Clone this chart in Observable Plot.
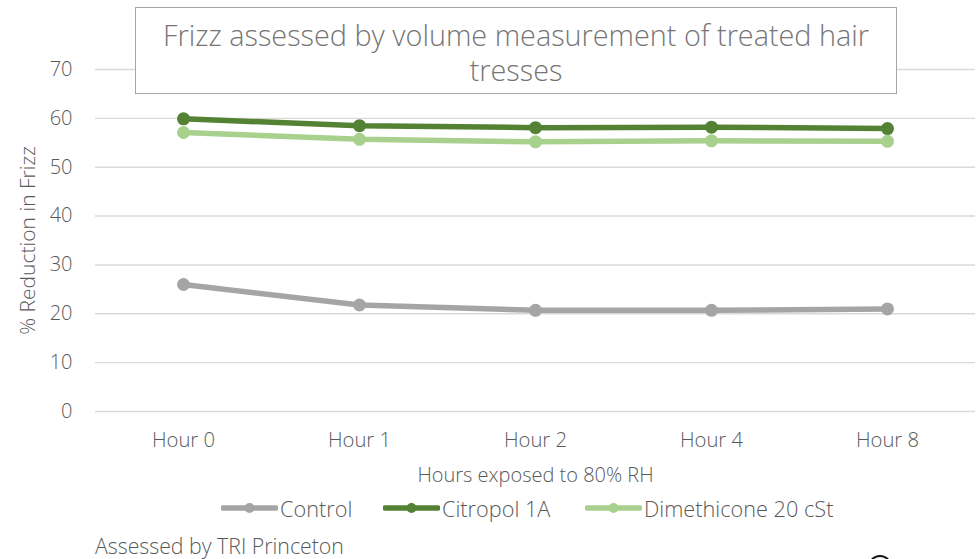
<!DOCTYPE html>
<html>
<head>
<meta charset="utf-8">
<script src="https://cdn.jsdelivr.net/npm/d3@7"></script>
<script src="https://cdn.jsdelivr.net/npm/@observablehq/plot@0.6"></script>
<style>
  html, body { margin: 0; padding: 0; background: #fff; }
  #wrap { position: relative; width: 976px; height: 559px; overflow: hidden; background: #fff; font-family: "Open Sans", Lato, sans-serif; font-weight: 300; color: #595959; }
  #plot { position: absolute; left: 0; top: 0; }
  #plot svg text { font-weight: 300; }
  #title { position: absolute; left: 135px; top: 7px; width: 760px; height: 76px; border: 1.5px solid #a6a6a6; background: #fff;
           text-align: center; font-size: 28.8px; line-height: 35px; color: #757575; padding-top: 9px; box-sizing: content-box; white-space: nowrap; }
  #legend { position: absolute; top: 495px; left: 0; width: 976px; height: 26px; }
  .item { position: absolute; top: 0; display: flex; align-items: center; font-size: 21.7px; color: #595959; height: 26px; white-space: nowrap; }
  .item svg { margin-right: 2px; }
  #caption { position: absolute; left: 95px; top: 535px; font-size: 21.3px; line-height: 22px; color: #595959; white-space: nowrap; }
  #blob { position: absolute; left: 868px; top: 555px; width: 20px; height: 20px; border-radius: 50%; border: 2px solid #111; }
</style>
</head>
<body>
<div id="wrap">
  <div id="plot"></div>
  <div id="title">Frizz assessed by volume measurement of treated hair<br>tresses</div>
  <div id="legend"></div>
  <div id="caption">Assessed by TRI Princeton</div>
  <div id="blob"></div>
</div>
<script>
const categories = ["Hour 0", "Hour 1", "Hour 2", "Hour 4", "Hour 8"];
const seriesNames = ["Control", "Citropol 1A", "Dimethicone 20 cSt"];
const seriesColors = ["#a5a5a5", "#548235", "#a9d18e"];
const control = [26.0, 21.8, 20.7, 20.7, 21.0];
const citropol = [59.9, 58.5, 58.1, 58.2, 57.9];
const dimethicone = [57.1, 55.7, 55.2, 55.4, 55.3];
const yTicks = [0, 10, 20, 30, 40, 50, 60, 70];
const xLabel = "Hours exposed to 80% RH";
const yLabel = "% Reduction in Frizz";

const seriesValues = [control, citropol, dimethicone];
const data = [];
seriesNames.forEach((s, i) => categories.forEach((c, j) => data.push({series: s, hour: c, value: seriesValues[i][j]})));

const chart = Plot.plot({
  width: 976,
  height: 495,
  marginTop: 69,
  marginBottom: 84,
  marginLeft: 95,
  marginRight: 1,
  style: {fontFamily: "'Open Sans', Lato, sans-serif", fontSize: "20px", color: "#595959", background: "transparent"},
  x: {type: "point", domain: categories, padding: 0.5, label: null},
  y: {domain: [0, 70], ticks: yTicks, label: null},
  color: {domain: seriesNames, range: seriesColors},
  marks: [
    Plot.gridY(yTicks, {stroke: "#d9d9d9", strokeOpacity: 1, strokeWidth: 1.4}),
    Plot.axisY(yTicks, {tickSize: 0, tickPadding: 23, label: null, fontSize: 20, fill: "#595959"}),
    Plot.axisX(categories, {tickSize: 0, tickPadding: 21, label: null, fontSize: 20.3, fill: "#595959"}),
    Plot.text([xLabel], {frameAnchor: "bottom", lineAnchor: "middle", dy: 64, text: d => d, fontSize: 20, fill: "#595959"}),
    Plot.text([yLabel], {frameAnchor: "left", dx: -67, rotate: -90, textAnchor: "middle", text: d => d, fontSize: 21, fill: "#595959"}),
    Plot.line(data, {x: "hour", y: "value", z: "series", stroke: "series", strokeWidth: 5.5, curve: "linear"}),
    Plot.dot(data, {x: "hour", y: "value", fill: "series", r: 6.5, stroke: "none"})
  ]
});
document.getElementById("plot").appendChild(chart);

const legend = document.getElementById("legend");
const lefts = [221, 383, 585];
seriesNames.forEach((s, i) => {
  const item = document.createElement("div");
  item.className = "item";
  item.style.left = lefts[i] + "px";
  item.innerHTML = `<svg width="57" height="14"><line x1="2" y1="7" x2="55" y2="7" stroke="${seriesColors[i]}" stroke-width="5.5" stroke-linecap="round"/><circle cx="28.5" cy="7" r="5" fill="${seriesColors[i]}"/></svg><span>${s}</span>`;
  legend.appendChild(item);
});
</script>
</body>
</html>
